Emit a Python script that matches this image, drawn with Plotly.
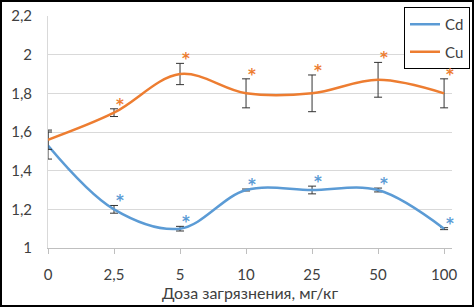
import plotly.graph_objects as go

# ---- data ----
dose_labels = ["0", "2,5", "5", "10", "25", "50", "100"]
cd_values = [1.53, 1.20, 1.10, 1.30, 1.30, 1.30, 1.10]
cd_errors = [0.07, 0.02, 0.012, 0.005, 0.02, 0.01, 0.005]
cu_values = [1.56, 1.70, 1.90, 1.80, 1.80, 1.87, 1.80]
cu_errors = [0.05, 0.02, 0.055, 0.075, 0.095, 0.09, 0.075]
cd_signif = [False, True, True, True, True, True, True]
cu_signif = [False, True, True, True, True, True, True]
y_ticks = [1.0, 1.2, 1.4, 1.6, 1.8, 2.0, 2.2]
y_tick_labels = ["1", "1,2", "1,4", "1,6", "1,8", "2", "2,2"]

CD_COLOR = "#5B9BD5"
CU_COLOR = "#ED7D31"
FONT = "Lato"
TXT = "#404040"

xs = list(range(len(dose_labels)))

fig = go.Figure()
fig.add_trace(go.Scatter(
    x=xs, y=cd_values, name="Cd", mode="lines",
    line=dict(color=CD_COLOR, width=2.5, shape="spline", smoothing=1),
    error_y=dict(type="data", array=cd_errors, visible=True,
                 color="#333333", thickness=1, width=4),
    legendgroup="a",
))
fig.add_trace(go.Scatter(
    x=xs, y=cu_values, name="Cu", mode="lines",
    line=dict(color=CU_COLOR, width=2.5, shape="spline", smoothing=1),
    error_y=dict(type="data", array=cu_errors, visible=True,
                 color="#333333", thickness=1, width=4),
    legendgroup="b",
))

annotations = []
for vals, errs, sig, col in [(cd_values, cd_errors, cd_signif, CD_COLOR),
                             (cu_values, cu_errors, cu_signif, CU_COLOR)]:
    for i, (v, e, s) in enumerate(zip(vals, errs, sig)):
        if s:
            annotations.append(dict(
                x=xs[i], y=v + e, xref="x", yref="y", text="<b>*</b>",
                showarrow=False, xshift=6, yshift=4,
                font=dict(family="DejaVu Sans", size=15, color=col),
            ))

W, H = 475, 308
L, R, T, B = 48, 23, 16, 60
pw, ph = W - L - R, H - T - B

fig.update_layout(
    width=W, height=H,
    margin=dict(l=L, r=R, t=T, b=B, autoexpand=False),
    paper_bgcolor="white", plot_bgcolor="white",
    font=dict(family=FONT, size=14, color=TXT),
    showlegend=True,
    legend=dict(
        x=(404 - L) / pw, y=1 + (T - 7) / ph, xanchor="left", yanchor="top",
        bordercolor="black", borderwidth=1, bgcolor="white",
        font=dict(family=FONT, size=15, color=TXT),
        traceorder="grouped", tracegroupgap=5, itemwidth=30,
    ),
    annotations=annotations,
    shapes=[dict(type="rect", xref="paper", yref="paper",
                 x0=(1 - L) / pw, x1=(473 - L) / pw,
                 y0=1 - (306 - T) / ph, y1=1 + (T - 1) / ph,
                 line=dict(color="black", width=2), fillcolor="rgba(0,0,0,0)",
                 layer="above")],
)

fig.update_xaxes(
    range=[0, 6.12], tickvals=xs, ticktext=dose_labels,
    showgrid=False, zeroline=False,
    showline=True, linecolor="#BFBFBF", linewidth=1,
    ticks="outside", ticklen=5, tickcolor="#BFBFBF",
    ticklabelstandoff=8,
    tickfont=dict(family=FONT, size=15, color=TXT),
    title=dict(text="Доза загрязнения, мг/кг", standoff=1,
               font=dict(family=FONT, size=16, color=TXT)),
)
fig.update_yaxes(
    range=[1, 2.2], tickvals=y_ticks, ticktext=y_tick_labels,
    showgrid=True, gridcolor="#D9D9D9", gridwidth=1, zeroline=False,
    showline=True, linecolor="#D9D9D9", linewidth=1,
    ticks="", ticklabelstandoff=12,
    tickfont=dict(family=FONT, size=15, color=TXT),
)

fig.write_html("out.html", config={"displayModeBar": False},
               post_script="document.body.style.margin='0';document.body.style.overflow='hidden';")
